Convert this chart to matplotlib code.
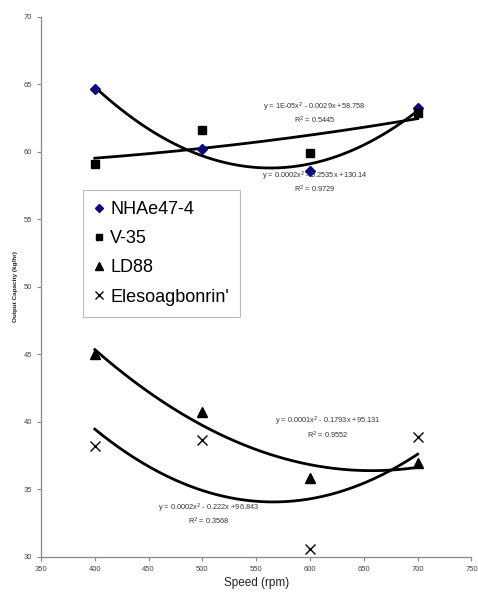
import numpy as np
import matplotlib.pyplot as plt

plt.rcParams['font.family'] = ['Liberation Sans', 'DejaVu Sans']

speed = [400, 500, 600, 700]
nhae47 = [64.62, 60.2, 58.59, 63.2]
v35 = [59.07, 61.6, 59.88, 62.9]
ld88 = [45.0, 40.74, 35.8, 36.96]
elesoagbonrin = [38.2, 38.64, 30.55, 38.84]

labels = ["NHAe47-4", "V-35", "LD88", "Elesoagbonrin'"]
equations = ["y = 0.0002x$^2$ - 0.2535x +130.14\nR$^2$ = 0.9729",
             "y = 1E-05x$^2$ - 0.0029x +58.758\nR$^2$ = 0.5445",
             "y = 0.0001x$^2$ - 0.1793x +95.131\nR$^2$ = 0.9552",
             "y = 0.0002x$^2$ - 0.222x +96.843\nR$^2$ = 0.3568"]

fig = plt.figure(figsize=(4.78, 5.94), dpi=100)
ax = fig.add_axes([0.0858, 0.0628, 0.9006, 0.9091])

series = [nhae47, v35, ld88, elesoagbonrin]
styles = [dict(marker='D', color='#0a0a7a', ms=5.5, ls='none'),
          dict(marker='s', color='black', ms=6, ls='none'),
          dict(marker='^', color='black', ms=6.5, ls='none'),
          dict(marker='x', color='black', ms=7, mew=1.0, ls='none')]

# second order trend lines
xs = np.linspace(400, 700, 200)
for vals in series:
    c = np.polyfit(speed, vals, 2)
    ax.plot(xs, np.polyval(c, xs), color='black', lw=2.0, zorder=2)

for vals, lab, st in zip(series, labels, styles):
    ax.plot(speed, vals, label=lab, zorder=3, **st)

eq_pos = [(604, 58.7), (604, 63.8), (616, 40.5), (506, 34.1)]
for (x, y), txt in zip(eq_pos, equations):
    ax.text(x, y, txt, fontsize=5.3, color='#333333', ha='center', va='top',
            linespacing=1.15)

ax.set_xlim(350, 750)
ax.set_ylim(30, 70)
ax.set_xticks(range(350, 751, 50))
ax.set_yticks(range(30, 71, 5))
ax.tick_params(labelsize=5.5, labelcolor='#444444', color='#888888',
               length=3, width=0.8)
for s in ['top', 'right']:
    ax.spines[s].set_visible(False)
for s in ['left', 'bottom']:
    ax.spines[s].set_color('#888888')
    ax.spines[s].set_linewidth(0.9)

ax.set_xlabel("Speed (rpm)", fontsize=8.5, color='#222222', labelpad=3)
ax.set_ylabel("Output Capacity (kg/hr)", fontsize=4.6, fontweight='bold',
              color='#222222', labelpad=4)

leg = ax.legend(loc='upper left', bbox_to_anchor=(0.0975, 0.679),
                fontsize=13, frameon=True, fancybox=False, handlelength=0.6,
                handletextpad=0.3, borderpad=0.6, labelspacing=0.68,
                markerscale=0.8, borderaxespad=0)
leg.get_frame().set_edgecolor('#aaaaaa')
leg.get_frame().set_linewidth(0.8)

fig.savefig("out.png", dpi=100)
